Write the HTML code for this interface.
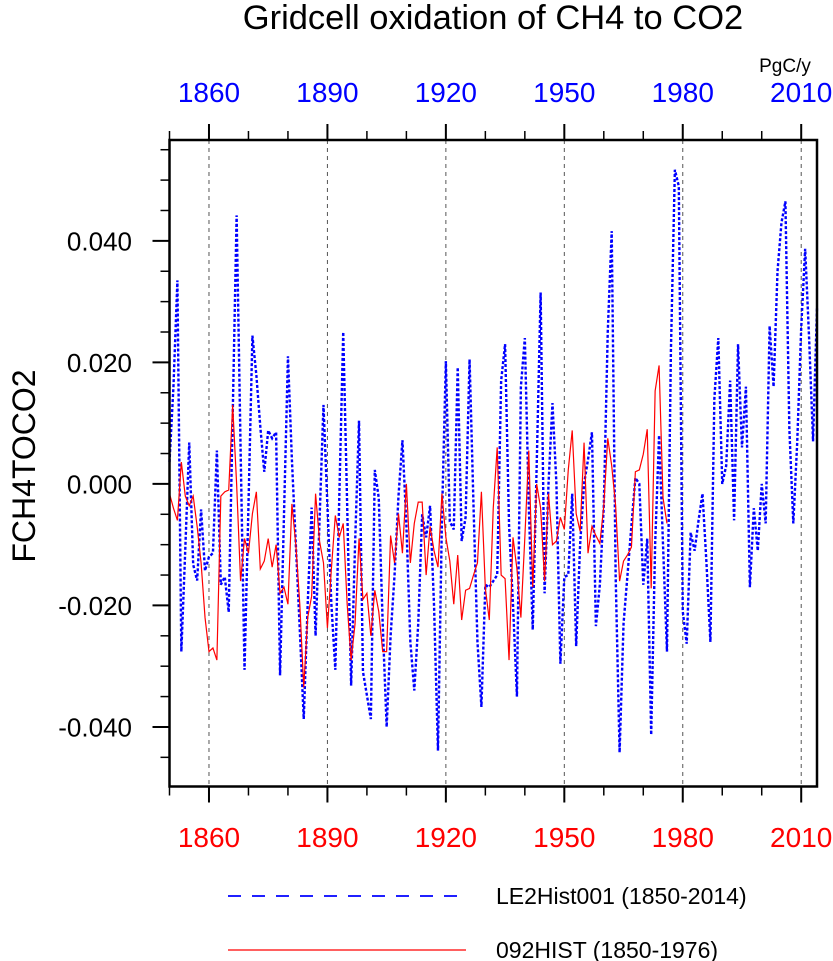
<!DOCTYPE html>
<html><head><meta charset="utf-8"><style>
html,body{margin:0;padding:0;background:#fff;}
svg{display:block;font-family:"Liberation Sans",Arial,sans-serif;}
</style></head><body>
<svg id="chart" width="833" height="961" viewBox="0 0 833 961" xmlns="http://www.w3.org/2000/svg">
<text x="493" y="29" font-size="34.5" text-anchor="middle" fill="#000">Gridcell oxidation of CH4 to CO2</text>
<text x="785" y="72" font-size="19" text-anchor="middle" fill="#000">PgC/y</text>
<text transform="translate(35,466) rotate(-90)" font-size="32" text-anchor="middle" fill="#000">FCH4TOCO2</text>
<g id="grid"></g>
<g id="series"></g>
<rect x="169.5" y="140" width="647.5" height="646.5" fill="none" stroke="#000" stroke-width="2.5"/>
<g id="axes"></g>
<g>
<line x1="228" y1="896" x2="466" y2="896" stroke="#0000ff" stroke-width="1.8" stroke-dasharray="13,11"/>
<text x="496" y="904" font-size="23" fill="#000">LE2Hist001 (1850-2014)</text>
<line x1="228" y1="950" x2="466" y2="950" stroke="#ff0000" stroke-width="1.3"/>
<text x="496" y="958" font-size="23" fill="#000">092HIST (1850-1976)</text>
</g>
</svg>
<script>
const startYear = 1850;
const blueValues = [0.0036,0.016,0.0335,-0.0276,-0.0107,0.0068,-0.0133,-0.0159,-0.0042,-0.0143,
-0.012,-0.0114,0.0055,-0.0166,-0.0153,-0.0211,0.011,0.0442,0.006,-0.0306,
-0.0036,0.0244,0.0179,0.0094,0.002,0.0088,0.0075,0.0085,-0.0315,-0.005,
0.021,0.004,-0.01,-0.024,-0.0387,-0.0198,-0.0039,-0.025,-0.006,0.013,
-0.0036,-0.0198,-0.0306,-0.0023,0.025,-0.0036,-0.0332,-0.01,0.0104,-0.0309,
-0.0348,-0.0387,0.0023,-0.0023,-0.023,-0.04,-0.025,-0.015,-0.002,0.0072,
-0.0068,-0.026,-0.034,-0.023,-0.005,-0.0088,-0.0036,-0.02,-0.0439,-0.006,
0.0202,-0.0062,-0.0075,0.0192,-0.0094,-0.0055,0.0205,-0.0036,-0.026,-0.0367,
-0.0166,-0.017,-0.016,-0.015,0.017,0.023,-0.0068,-0.0198,-0.035,0.016,
0.024,-0.0036,-0.024,0.003,0.0315,-0.018,0.0,0.0133,0.0,-0.0296,
-0.0153,-0.015,-0.0016,-0.0267,-0.01,0.0,0.004,0.0085,-0.0234,-0.0166,
-0.0036,0.025,0.0416,-0.015,-0.0442,-0.023,-0.015,-0.0068,0.001,0.0,
-0.0166,-0.009,-0.0413,-0.01,0.008,-0.01,-0.0276,0.022,0.0517,0.049,
-0.021,-0.0263,-0.008,-0.011,-0.006,-0.0016,-0.013,-0.026,0.014,0.024,
0.0,0.003,0.017,-0.006,0.023,0.006,0.016,-0.017,-0.004,-0.011,
0.0,-0.0065,0.026,0.016,0.035,0.043,0.0465,0.009,-0.0065,0.007,
0.0257,0.0387,0.024,0.007,0.029];
const redValues = [-0.0016,-0.004,-0.006,0.0036,-0.002,-0.0036,-0.002,-0.007,-0.013,-0.022,
-0.0276,-0.027,-0.029,-0.002,-0.0013,-0.001,0.013,0.0,-0.016,-0.009,
-0.0114,-0.0049,-0.0013,-0.014,-0.0127,-0.009,-0.0137,-0.01,-0.018,-0.017,
-0.0198,-0.0033,-0.01,-0.0198,-0.0335,-0.022,-0.0185,-0.0016,-0.0094,-0.013,
-0.0237,-0.014,-0.0052,-0.0088,-0.0065,-0.0198,-0.029,-0.023,-0.009,-0.019,
-0.018,-0.025,-0.0175,-0.021,-0.0276,-0.0276,-0.0085,-0.013,-0.0049,-0.0114,
0.0,-0.013,-0.0065,-0.003,-0.003,-0.015,-0.007,-0.011,-0.0137,-0.0016,
-0.0088,-0.0127,-0.0198,-0.0117,-0.0224,-0.0175,-0.0172,-0.015,-0.013,-0.0013,
-0.0172,-0.0224,-0.004,0.006,-0.015,-0.0156,-0.029,-0.0088,-0.014,-0.022,
-0.0088,0.0055,-0.017,0.0,-0.004,-0.016,-0.0016,-0.01,-0.0094,-0.0055,
-0.0075,0.0023,0.0088,-0.0049,-0.0078,0.0068,-0.0114,-0.007,-0.0085,-0.0098,
-0.0036,0.0075,0.003,-0.0036,-0.016,-0.0127,-0.0117,-0.0104,0.002,0.0023,
0.0049,0.009,-0.0172,0.0153,0.0195,-0.0023,-0.0065];
const xTickYears = [1860,1890,1920,1950,1980,2010];
const yTickValues = [-0.04,-0.02,0,0.02,0.04];
const yTickLabels = ["-0.040","-0.020","0.000","0.020","0.040"];

const NS = "http://www.w3.org/2000/svg";
const X0 = 169.5, X1 = 817, Y0 = 140, Y1 = 786.5;
const yearMin = 1850, yearMax = 2014;
const vMin = -0.0498, vMax = 0.0566;
function xs(yr){ return X0 + (yr - yearMin) / (yearMax - yearMin) * (X1 - X0); }
function ys(v){ return Y1 - (v - vMin) / (vMax - vMin) * (Y1 - Y0); }
function mk(tag, attrs, parent){ const e = document.createElementNS(NS, tag); for (const k in attrs) e.setAttribute(k, attrs[k]); parent.appendChild(e); return e; }

const grid = document.getElementById('grid');
const axes = document.getElementById('axes');
const series = document.getElementById('series');

xTickYears.forEach(function(yr){
  const gl = mk('line', {x1: xs(yr), y1: Y0, x2: xs(yr), y2: Y1, stroke: '#555', 'stroke-width': 1, 'stroke-dasharray': '4,4'}, grid);
  
  
  const tt = mk('text', {x: xs(yr), y: 102, 'font-size': 28, 'text-anchor': 'middle', fill: '#0000ff'}, axes);
  tt.textContent = yr;
  
  
  const bt = mk('text', {x: xs(yr), y: 847, 'font-size': 28, 'text-anchor': 'middle', fill: '#ff0000'}, axes);
  bt.textContent = yr;
  
  
});
for (let yr = 1850; yr <= 2014; yr += 10) {
  const major = (yr - 1860) % 30 === 0;
  const len = major ? 16 : 9;
  mk('line', {x1: xs(yr), y1: Y0, x2: xs(yr), y2: Y0 - len, stroke: '#000', 'stroke-width': major ? 2 : 1.5}, axes);
  mk('line', {x1: xs(yr), y1: Y1, x2: xs(yr), y2: Y1 + len, stroke: '#000', 'stroke-width': major ? 2 : 1.5}, axes);
}
for (let k = -9; k <= 11; k++) {
  const v = k * 0.005;
  if (v < vMin || v > vMax) continue;
  const major = (k % 4 === 0);
  mk('line', {x1: X0, y1: ys(v), x2: X0 - (major ? 17 : 9), y2: ys(v), stroke: '#000', 'stroke-width': major ? 2 : 1.5}, axes);
}
yTickValues.forEach(function(v, i){
  const t = mk('text', {x: 132, y: ys(v) + 9.5, 'font-size': 26, 'text-anchor': 'end', fill: '#000'}, axes);
  t.textContent = yTickLabels[i];
  
  
});

function pts(vals){ return vals.map(function(v, i){ return xs(startYear + i).toFixed(2) + ',' + ys(v).toFixed(2); }).join(' '); }
const blue = mk('polyline', {points: pts(blueValues), fill: 'none', stroke: '#0000ff', 'stroke-width': 2.4, 'stroke-dasharray': '3,2'}, series);


const red = mk('polyline', {points: pts(redValues), fill: 'none', stroke: '#ff0000', 'stroke-width': 1.2}, series);


</script>
</body></html>
